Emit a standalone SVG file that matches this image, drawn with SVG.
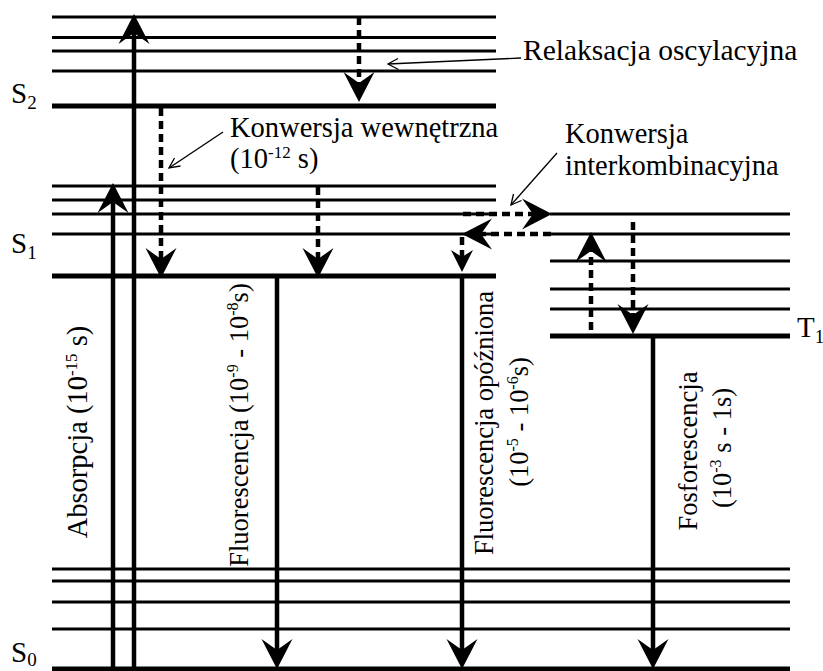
<svg xmlns="http://www.w3.org/2000/svg" width="823" height="671" viewBox="0 0 823 671">
  <style>
    .lv { stroke:#000; stroke-width:3; fill:none; }
    .lvb { stroke:#000; stroke-width:5; fill:none; }
    .sol { stroke:#000; stroke-width:4.5; fill:none; }
    .dsh { stroke:#000; stroke-width:4.5; fill:none; stroke-dasharray:8 5; }
    .ptr { stroke:#000; stroke-width:1.3; fill:none; }
    text { font-family:'Liberation Serif', Tinos, 'Times New Roman', Times, 'Nimbus Roman', FreeSerif, 'Noto Serif', 'DejaVu Serif', serif; fill:#000; }
    .t { font-size:28.5px; }
    .tl { font-size:29.5px; }
    .lab { font-size:29px; }
    .rt { font-size:26.5px; }
  </style>
  <defs>
    <!-- barbed arrowhead, tip at origin, pointing up -->
    <path id="ah" d="M0,0 L15.5,30 L0,19 L-15.5,30 Z" fill="#000"/>
    <path id="ahs" d="M0,0 L11,22 L0,15 L-11,22 Z" fill="#000"/>
  </defs>
  <rect width="823" height="671" fill="#fff"/>

  <!-- S2 manifold -->
  <g id="S2">
    <line class="lv" x1="52" y1="17" x2="496" y2="17"/>
    <line class="lv" x1="52" y1="37.5" x2="496" y2="37.5"/>
    <line class="lv" x1="52" y1="51" x2="496" y2="51"/>
    <line class="lv" x1="52" y1="71" x2="496" y2="71"/>
    <line class="lvb" x1="52" y1="106" x2="496" y2="106"/>
    <text class="lab" x="11" y="103">S<tspan font-size="19" dy="6">2</tspan></text>
  </g>

  <!-- S1 manifold -->
  <g id="S1">
    <line class="lv" x1="52" y1="186" x2="496" y2="186"/>
    <line class="lv" x1="52" y1="200" x2="496" y2="200"/>
    <line class="lv" x1="52" y1="214" x2="496" y2="214"/>
    <line class="lv" x1="52" y1="234" x2="496" y2="234"/>
    <line class="lvb" x1="52" y1="276" x2="496" y2="276"/>
    <text class="lab" x="11" y="253">S<tspan font-size="19" dy="6">1</tspan></text>
  </g>

  <!-- T1 manifold -->
  <g id="T1">
    <line class="lv" x1="550" y1="214" x2="790" y2="214"/>
    <line class="lv" x1="550" y1="234" x2="790" y2="234"/>
    <line class="lv" x1="550" y1="261" x2="790" y2="261"/>
    <line class="lv" x1="550" y1="289" x2="790" y2="289"/>
    <line class="lv" x1="550" y1="309" x2="790" y2="309"/>
    <line class="lvb" x1="550" y1="336" x2="790" y2="336"/>
    <text class="lab" x="797" y="337">T<tspan font-size="19" dy="6">1</tspan></text>
  </g>

  <!-- S0 manifold -->
  <g id="S0">
    <line class="lv" x1="52" y1="569" x2="790" y2="569"/>
    <line class="lv" x1="52" y1="581" x2="790" y2="581"/>
    <line class="lv" x1="52" y1="602" x2="790" y2="602"/>
    <line class="lv" x1="52" y1="629" x2="790" y2="629"/>
    <line class="lvb" x1="52" y1="669" x2="790" y2="669"/>
    <text class="lab" x="11" y="662">S<tspan font-size="19" dy="4">0</tspan></text>
  </g>

  <!-- transitions -->
  <g id="connectors">
    <!-- absorption -->
    <line class="sol" x1="134" y1="671" x2="134" y2="30"/>
    <use href="#ah" transform="translate(134,14)"/>
    <line class="sol" x1="113" y1="671" x2="113" y2="200"/>
    <use href="#ah" transform="translate(113,183)"/>

    <!-- vibrational relaxation / internal conversion -->
    <line class="dsh" x1="359" y1="17" x2="359" y2="90"/>
    <use href="#ah" transform="translate(359,102) rotate(180)"/>
    <line class="dsh" x1="161" y1="108" x2="161" y2="262"/>
    <use href="#ah" transform="translate(161,278) rotate(180)"/>
    <line class="dsh" x1="318" y1="187" x2="318" y2="264"/>
    <use href="#ah" transform="translate(318,278) rotate(180)"/>

    <!-- fluorescence -->
    <line class="sol" x1="277" y1="276" x2="277" y2="655"/>
    <use href="#ah" transform="translate(277,669) rotate(180)"/>

    <!-- intersystem crossing -->
    <line class="dsh" x1="463" y1="214" x2="540" y2="214"/>
    <use href="#ah" transform="translate(552,214) rotate(90)"/>
    <line class="dsh" x1="551" y1="234" x2="476" y2="234"/>
    <use href="#ah" transform="translate(462,234) rotate(-90)"/>

    <!-- delayed fluorescence -->
    <line class="dsh" x1="462" y1="237" x2="462" y2="262"/>
    <use href="#ahs" transform="translate(462,272) rotate(180)"/>
    <line class="sol" x1="462" y1="276" x2="462" y2="655"/>
    <use href="#ah" transform="translate(462,669) rotate(180)"/>

    <!-- triplet relaxation -->
    <line class="dsh" x1="591" y1="330" x2="591" y2="246"/>
    <use href="#ah" transform="translate(591,232)"/>
    <line class="dsh" x1="633" y1="222" x2="633" y2="320"/>
    <use href="#ah" transform="translate(633,334) rotate(180)"/>

    <!-- phosphorescence -->
    <line class="sol" x1="653" y1="336" x2="653" y2="655"/>
    <use href="#ah" transform="translate(653,669) rotate(180)"/>

    <!-- label pointers -->
    <line class="ptr" x1="521" y1="58" x2="388" y2="64"/>
    <polyline class="ptr" points="398,58.5 388,64 398.5,69.5"/>
    <line class="ptr" x1="223" y1="132" x2="169" y2="168"/>
    <polyline class="ptr" points="174.5,158 169,168 180.5,166"/>
    <line class="ptr" x1="557" y1="153" x2="511" y2="205"/>
    <polyline class="ptr" points="513.5,194 511,205 521.5,200.5"/>
  </g>

  <!-- annotations -->
  <g id="labels">
    <text class="tl" x="523" y="60">Relaksacja oscylacyjna</text>
    <text class="t" x="230" y="137">Konwersja wewnętrzna</text>
    <text class="t" x="230" y="168">(10<tspan font-size="17" dy="-10">-12</tspan><tspan dy="10"> s)</tspan></text>
    <text class="t" x="565" y="143">Konwersja</text>
    <text class="t" x="565" y="175">interkombinacyjna</text>

    <text class="t" transform="translate(87,432) rotate(-90)" text-anchor="middle">Absorpcja (10<tspan font-size="17" dy="-10">-15</tspan><tspan dy="10"> s)</tspan></text>
    <text class="rt" transform="translate(248,425) rotate(-90)" text-anchor="middle">Fluorescencja (10<tspan font-size="16" dy="-10">-9</tspan><tspan dy="10"> - 10</tspan><tspan font-size="16" dy="-10">-8</tspan><tspan dy="10">s)</tspan></text>
    <text class="rt" transform="translate(493,423) rotate(-90)" text-anchor="middle">Fluorescencja opóźniona</text>
    <text class="rt" transform="translate(528,422) rotate(-90)" text-anchor="middle">(10<tspan font-size="16" dy="-10">-5</tspan><tspan dy="10"> - 10</tspan><tspan font-size="16" dy="-10">-6</tspan><tspan dy="10">s)</tspan></text>
    <text class="rt" transform="translate(697,451) rotate(-90)" text-anchor="middle">Fosforescencja</text>
    <text class="rt" transform="translate(731,448) rotate(-90)" text-anchor="middle">(10<tspan font-size="16" dy="-10">-3</tspan><tspan dy="10"> s - 1s)</tspan></text>
  </g>
</svg>
